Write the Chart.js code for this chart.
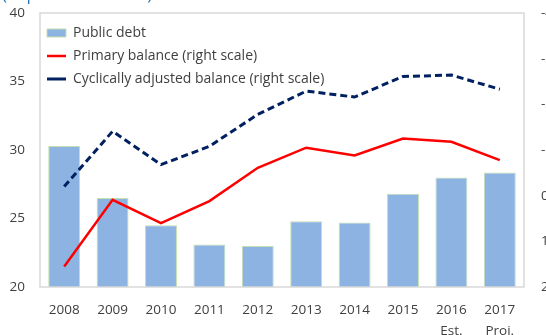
<!DOCTYPE html>
<html>
<head>
<meta charset="utf-8">
<script src="https://cdn.jsdelivr.net/npm/chart.js@4"></script>
<style>
  body { margin: 0; background: #fff; }
  #wrap { position: relative; width: 546px; height: 335px; overflow: hidden; }
  #unidad { position: absolute; left: 2px; top: -15px; font: 17px 'Open Sans', sans-serif; color: #2e75b6; white-space: nowrap; line-height: 17px; }
</style>
</head>
<body>
<div id="wrap">
  <div id="unidad">(In percent of GDP)</div>
  <canvas id="grafico"></canvas>
</div>
<script>
// datos
const anios = ['2008', '2009', '2010', '2011', '2012', '2013', '2014', '2015', '2016', '2017']
const notas = ['', '', '', '', '', '', '', '', 'Est.', 'Proj.']
const deudaPublica = [30.3, 26.5, 24.5, 23.1, 23.0, 24.8, 24.7, 26.8, 28.0, 28.35]
const balancePrimario = [1.55, 0.09, 0.6, 0.12, -0.61, -1.05, -0.88, -1.25, -1.18, -0.78]
const balanceCiclico = [-0.2, -1.41, -0.68, -1.08, -1.78, -2.29, -2.16, -2.61, -2.64, -2.33]
const ticksIzq = { min: 20, max: 40, paso: 5 }
const ticksDer = { min: -4, max: 2, paso: 1 }

const fuente = "'Open Sans', sans-serif"
const colorTexto = '#404040'

const etiquetas = anios.map((a, i) => notas[i] ? [a, notas[i]] : a)

// borde gris alrededor del area del grafico
const bordeArea = {
    id: 'bordeArea',
    afterDatasetsDraw(chart) {
        const { ctx, chartArea } = chart
        ctx.save()
        ctx.strokeStyle = '#d9d9d9'
        ctx.lineWidth = 1.5
        ctx.strokeRect(chartArea.left, chartArea.top, chartArea.right - chartArea.left, chartArea.bottom - chartArea.top)
        ctx.restore()
    }
}

// la leyenda vertical queda con top = 0, se ubica dentro del area
const moverLeyenda = {
    id: 'moverLeyenda',
    afterLayout(chart) {
        chart.legend.left = chart.chartArea.left - 2
        chart.legend.top = chart.chartArea.top + 4
    }
}

// el padding de los ticks se suma arriba y abajo, se quita
const sinRelleno = (s) => {
    s.paddingTop = 0
    s.paddingBottom = 0
    s.paddingLeft = 0
    s.paddingRight = 0
}

const ctx = document.getElementById('grafico')
new Chart(ctx, {
    type: 'bar',
    data: {
        labels: etiquetas,
        datasets: [
            {
                label: 'Public debt',
                data: deudaPublica,
                backgroundColor: '#8db3e2',
                borderColor: '#c4dfb0',
                borderWidth: 1,
                barPercentage: 0.66,
                categoryPercentage: 1,
                pointStyle: 'rect',
                yAxisID: 'y',
                order: 3
            },
            {
                type: 'line',
                label: 'Primary balance (right scale)',
                data: balancePrimario,
                borderColor: '#ff0000',
                backgroundColor: '#ff0000',
                borderWidth: 2.5,
                pointRadius: 0,
                pointStyle: 'line',
                tension: 0,
                yAxisID: 'y2',
                order: 2
            },
            {
                type: 'line',
                label: 'Cyclically adjusted balance (right scale)',
                data: balanceCiclico,
                borderColor: '#002060',
                backgroundColor: '#002060',
                borderWidth: 3,
                borderDash: [7, 4],
                pointRadius: 0,
                pointStyle: 'line',
                tension: 0,
                yAxisID: 'y2',
                order: 1
            }
        ]
    },
    options: {
        responsive: true,
        maintainAspectRatio: false,
        animation: false,
        layout: { padding: { top: 13, left: 0, right: 0, bottom: 0 } },
        plugins: {
            legend: {
                position: 'chartArea',
                align: 'start',
                labels: {
                    usePointStyle: true,
                    pointStyleWidth: 19,
                    boxHeight: 8,
                    padding: 9,
                    color: colorTexto,
                    font: { family: fuente, size: 14 },
                    sort: (a, b) => a.datasetIndex - b.datasetIndex
                }
            },
            tooltip: { enabled: false }
        },
        scales: {
            x: {
                grid: { display: false, drawTicks: false },
                border: { display: false },
                ticks: {
                    color: colorTexto,
                    padding: 13,
                    maxRotation: 0,
                    autoSkip: false,
                    font: { family: fuente, size: 13.5, lineHeight: 1.55 }
                },
                afterFit: (s) => { s.height = 48; sinRelleno(s) }
            },
            y: {
                position: 'left',
                min: ticksIzq.min,
                max: ticksIzq.max,
                grid: { display: false, drawTicks: false },
                border: { display: false },
                ticks: {
                    stepSize: ticksIzq.paso,
                    color: colorTexto,
                    padding: 15,
                    font: { family: fuente, size: 13.5 }
                },
                afterFit: (s) => { s.width = 40; sinRelleno(s) }
            },
            y2: {
                position: 'right',
                min: ticksDer.min,
                max: ticksDer.max,
                reverse: true,
                grid: { display: false, drawTicks: false },
                border: { display: false },
                ticks: {
                    stepSize: ticksDer.paso,
                    color: colorTexto,
                    padding: 17,
                    font: { family: fuente, size: 13.5 }
                },
                afterFit: (s) => { s.width = 22; sinRelleno(s) }
            }
        }
    },
    plugins: [bordeArea, moverLeyenda]
})
</script>
</body>
</html>
